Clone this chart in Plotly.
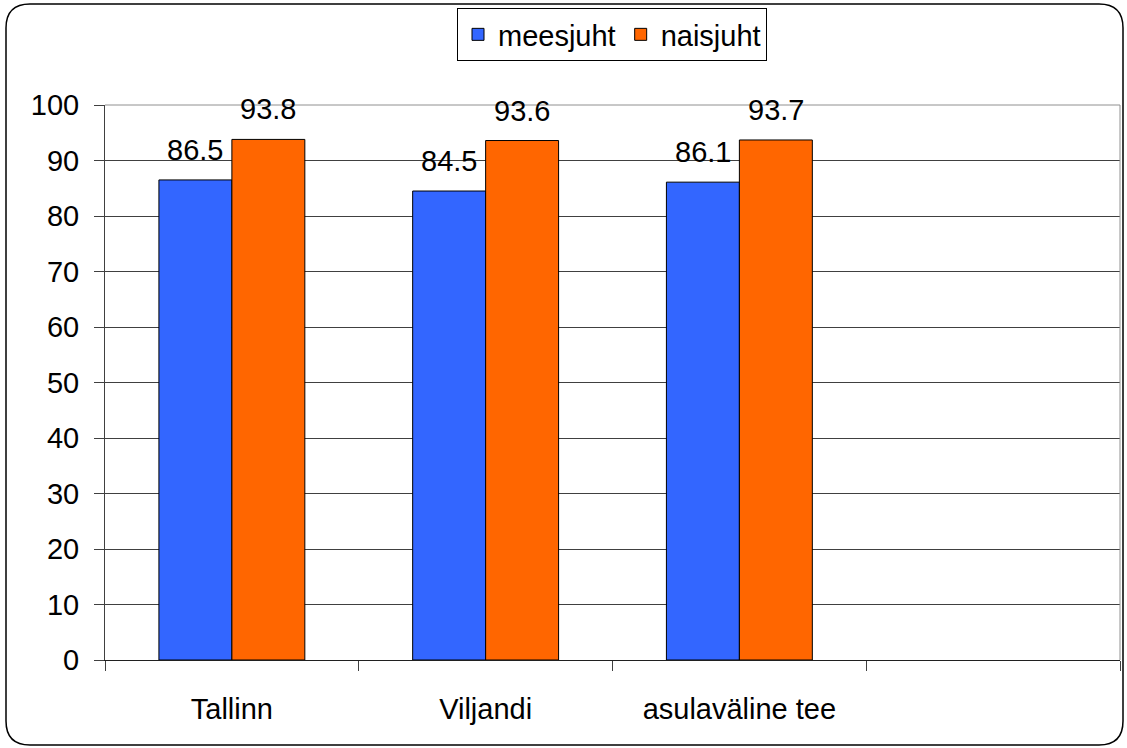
import plotly.graph_objects as go

categories = ["Tallinn", "Viljandi", "asulaväline tee", " "]
meesjuht = [86.5, 84.5, 86.1, None]
naisjuht = [93.8, 93.6, 93.7, None]
y_ticks = [0, 10, 20, 30, 40, 50, 60, 70, 80, 90, 100]

W, H = 1127, 748
L, R, T, B = 105, 7, 105, 88
pw, ph = W - L - R, H - T - B
FS = 29

def px(x):
    return (x - L) / pw

def py(y):
    return (H - B - y) / ph

def fmt(v):
    return f"{v:.1f}"

fig = go.Figure()
fig.add_trace(go.Bar(
    name="meesjuht", x=categories, y=meesjuht,
    marker=dict(color="#3366FF", line=dict(color="black", width=1)),
))
fig.add_trace(go.Bar(
    name="naisjuht", x=categories, y=naisjuht,
    marker=dict(color="#FF6600", line=dict(color="black", width=1)),
))

# data labels above bars
half = 0.5 * (1 - 0.425) * pw / 4 / 2  # half of one bar width in px
annotations = []
for cat, v in zip(categories, meesjuht):
    if v is not None:
        annotations.append(dict(x=cat, y=v, text=fmt(v), showarrow=False,
                                xshift=-half, yshift=12, yanchor="bottom",
                                font=dict(size=FS, color="black")))
for cat, v in zip(categories, naisjuht):
    if v is not None:
        annotations.append(dict(x=cat, y=v, text=fmt(v), showarrow=False,
                                xshift=half, yshift=12, yanchor="bottom",
                                font=dict(size=FS, color="black")))

# rounded outer border
x0, x1, y0, y1, r = px(6), px(1123), py(4), py(745), 24
rx, ry = r / pw, r / ph
path = (f"M {x0+rx},{y0} L {x1-rx},{y0} Q {x1},{y0} {x1},{y0-ry} "
        f"L {x1},{y1+ry} Q {x1},{y1} {x1-rx},{y1} "
        f"L {x0+rx},{y1} Q {x0},{y1} {x0},{y1+ry} "
        f"L {x0},{y0-ry} Q {x0},{y0} {x0+rx},{y0} Z")

fig.update_layout(
    width=W, height=H,
    margin=dict(l=L, r=R, t=T, b=B),
    paper_bgcolor="white", plot_bgcolor="white",
    font=dict(family="Liberation Sans, Arial, sans-serif", size=FS, color="black"),
    barmode="group", bargap=0.425, bargroupgap=0,
    showlegend=True,
    legend=dict(orientation="h", x=px(612), xanchor="center", y=py(8), yanchor="top",
                bordercolor="black", borderwidth=1, font=dict(size=FS),
                itemwidth=30, traceorder="normal", tracegroupgap=0),
    xaxis=dict(categoryorder="array", categoryarray=categories,
               range=[-0.5, 3.5], tickson="boundaries", ticks="outside", ticklen=10,
               tickcolor="#404040", showline=True, linecolor="#202020", linewidth=1,
               showgrid=False, ticklabelstandoff=23, tickfont=dict(size=FS)),
    yaxis=dict(range=[0, 100], tickvals=y_ticks, ticks="outside", ticklen=10,
               tickcolor="#404040", showline=True, linecolor="#404040", linewidth=1,
               showgrid=True, gridcolor="#404040", gridwidth=1, zeroline=False,
               ticklabelstandoff=9, tickfont=dict(size=FS)),
    annotations=annotations,
    shapes=[
        dict(type="path", path=path, xref="paper", yref="paper",
             line=dict(color="black", width=1.5), layer="below"),
        dict(type="line", xref="paper", yref="paper", x0=0, x1=1, y0=1, y1=1,
             line=dict(color="#909090", width=1), layer="above"),
        dict(type="line", xref="paper", yref="paper", x0=1, x1=1, y0=0, y1=1,
             line=dict(color="#909090", width=1), layer="above"),
    ],
)

fig.write_html("out.html", config={"displayModeBar": False},
               post_script="document.body.style.margin='0';")
